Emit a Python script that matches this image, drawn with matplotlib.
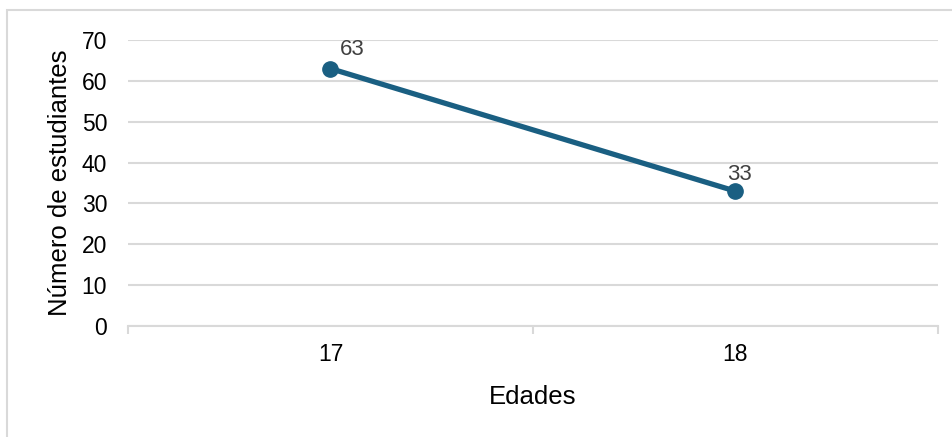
import matplotlib
matplotlib.use("Agg")
import matplotlib.pyplot as plt
from matplotlib.patches import Rectangle

# data
edades = ["17", "18"]
estudiantes = [63, 33]
y_ticks = [0, 10, 20, 30, 40, 50, 60, 70]

plt.rcParams['font.family'] = ['Liberation Sans', 'DejaVu Sans']

line_col = "#1A5F82"
grid_col = "#D9D9D9"

fig = plt.figure(figsize=(9.53, 4.37), dpi=100)
ax = fig.add_axes([128/953, 1 - 326/437, (938 - 128)/953, (326 - 40)/437])

x = list(range(len(edades)))
ax.plot(x, estudiantes, color=line_col, lw=3.8, marker="o", ms=11,
        solid_capstyle="round", zorder=3, clip_on=False)

# data labels (offsets in points)
offsets = [(16, 14), (3, 12)]
for xi, v, off in zip(x, estudiantes, offsets):
    ax.annotate(str(v), (xi, v), xytext=off, textcoords="offset points",
                ha="center", va="center", fontsize=16, color="#404040")

ax.set_xlim(-0.5, len(edades) - 0.5)
ax.set_ylim(0, 70)
ax.set_yticks(y_ticks)
ax.yaxis.grid(True, color=grid_col, lw=1.5)
ax.set_axisbelow(True)
for s in ["top", "right", "left"]:
    ax.spines[s].set_visible(False)
ax.spines["bottom"].set_color(grid_col)
ax.spines["bottom"].set_linewidth(1.5)

ax.tick_params(axis="y", length=0, pad=15, labelsize=16.5, labelcolor="black")
# category boundary ticks
ax.set_xticks([i - 0.5 for i in range(len(edades) + 1)])
ax.set_xticklabels([""] * (len(edades) + 1))
ax.tick_params(axis="x", length=6, width=1.5, color=grid_col)
for xi, lab in zip(x, edades):
    ax.text(xi, -0.1, lab, transform=ax.get_xaxis_transform(),
            ha="center", va="center", fontsize=16.5, color="black")

ax.set_xlabel("Edades", fontsize=18.5, labelpad=33)
ax.set_ylabel("Número de estudiantes", fontsize=18.5, labelpad=7)

# chart border (only top and left are visible in the crop)
fig.patches.append(Rectangle((7/953, -0.1), 1.2, 1.1 - 10/437,
                             transform=fig.transFigure, fill=False,
                             edgecolor=grid_col, lw=1.5))

fig.savefig("out.png", dpi=100)
